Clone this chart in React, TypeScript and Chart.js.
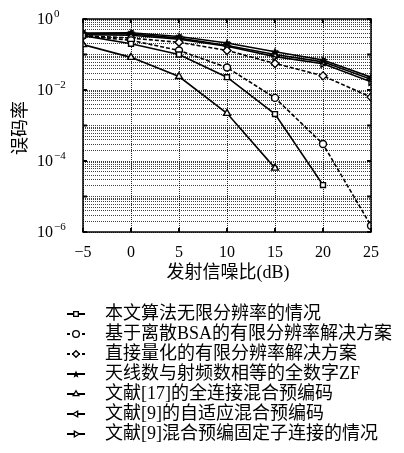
import React, { useEffect, useRef } from 'react';
import { Chart, registerables } from 'chart.js';
import { drawPoint } from 'chart.js/helpers';

Chart.register(...registerables);

// ---- data ----
const snr = [-5, 0, 5, 10, 15, 20, 25];
const xTickLabels = ['−5', '0', '5', '10', '15', '20', '25'];
const yLabelExponents = [0, -2, -4, -6];

const berProposed = [0.34, 0.2, 0.1, 0.023, 0.0021, 0.000021, null];
const berBSA = [0.34, 0.25, 0.13, 0.043, 0.006, 0.0003, 0.0000015];
const berQuant = [0.34, 0.29, 0.22, 0.13, 0.056, 0.025, 0.0063];
const berZF = [0.4, 0.41, 0.32, 0.21, 0.12, 0.07, 0.023];
const berRef17 = [0.19, 0.083, 0.024, 0.0022, 0.000063, null, null];
const berRef9Adaptive = [0.38, 0.38, 0.29, 0.18, 0.1, 0.062, 0.02];
const berRef9Fixed = [0.36, 0.35, 0.27, 0.17, 0.087, 0.055, 0.017];

const seriesNames = [
  '本文算法无限分辨率的情况',
  '基于离散BSA的有限分辨率解决方案',
  '直接量化的有限分辨率解决方案',
  '天线数与射频数相等的全数字ZF',
  '文献[17]的全连接混合预编码',
  '文献[9]的自适应混合预编码',
  '文献[9]混合预编固定子连接的情况',
];

const xTitle = '发射信噪比(dB)';
const yTitle = '误码率';

const SERIF = '"Liberation Serif", "Noto Sans CJK SC", serif';

function makeStar(size: number) {
  const c = document.createElement('canvas');
  c.width = size;
  c.height = size;
  const g = c.getContext('2d')!;
  const cx = size / 2, cy = size / 2 + 0.5;
  const R = size / 2, r = R * 0.45;
  g.beginPath();
  for (let i = 0; i < 10; i++) {
    const ang = -Math.PI / 2 + (i * Math.PI) / 5;
    const rad = i % 2 === 0 ? R : r;
    const px = cx + Math.cos(ang) * rad;
    const py = cy + Math.sin(ang) * rad;
    if (i === 0) g.moveTo(px, py); else g.lineTo(px, py);
  }
  g.closePath();
  g.fillStyle = '#000';
  g.fill();
  return c;
}

export default function App() {
  const ref = useRef<HTMLCanvasElement | null>(null);

  useEffect(() => {
    if (!ref.current) return;
    const star = makeStar(10);
    const legendStar = makeStar(8);
    const styles: any[] = [
      { data: berProposed, style: 'rect', dashed: false, rot: 0, r: 3.5 },
      { data: berBSA, style: 'circle', dashed: true, rot: 0, r: 3.5 },
      { data: berQuant, style: 'rectRot', dashed: true, rot: 0, r: 4 },
      { data: berZF, style: star, dashed: false, rot: 0, r: 4 },
      { data: berRef17, style: 'triangle', dashed: false, rot: 0, r: 4 },
      { data: berRef9Adaptive, style: 'triangle', dashed: false, rot: -90, r: 4 },
      { data: berRef9Fixed, style: 'triangle', dashed: false, rot: 90, r: 4 },
    ];

    const datasets = styles.map((s, i) => ({
      label: seriesNames[i],
      data: snr
        .map((x, j) => ({ x, y: s.data[j] }))
        .filter((p) => p.y !== null && p.y !== undefined),
      borderColor: '#000',
      backgroundColor: '#fff',
      borderWidth: 1.6,
      borderDash: s.dashed ? [4, 2] : [],
      pointStyle: s.style,
      pointRadius: s.r,
      pointRotation: s.rot,
      pointBorderWidth: 1.4,
      pointBackgroundColor: '#fff',
      pointBorderColor: '#000',
      tension: 0,
      fill: false,
    }));

    const overlay = {
      id: 'overlay',
      afterDraw(chart: any) {
        const { ctx, chartArea: a, scales } = chart;
        const xs = scales.x, ys = scales.y;
        ctx.save();
        const line = (x1: number, y1: number, x2: number, y2: number) => {
          ctx.beginPath();
          ctx.moveTo(x1, y1);
          ctx.lineTo(x2, y2);
          ctx.stroke();
        };
        ctx.setLineDash([]);
        ctx.strokeStyle = '#000';
        // frame
        ctx.lineWidth = 1.5;
        ctx.strokeRect(a.left, a.top, a.right - a.left, a.bottom - a.top);
        // decade ticks
        ctx.lineWidth = 2;
        for (let k = -6; k <= 0; k++) {
          const y = ys.getPixelForValue(Math.pow(10, k));
          line(a.left, y, a.left + 4, y);
          line(a.right - 4, y, a.right, y);
        }
        // x ticks
        snr.forEach((v) => {
          const x = xs.getPixelForValue(v);
          line(x, a.bottom, x, a.bottom - 4);
          line(x, a.top, x, a.top + 4);
        });
        ctx.fillStyle = '#000';
        // y labels
        yLabelExponents.forEach((e) => {
          const y = ys.getPixelForValue(Math.pow(10, e));
          ctx.font = '16px "Liberation Serif", serif';
          ctx.textAlign = 'left';
          ctx.textBaseline = 'middle';
          ctx.fillText('10', 37, y + 1);
          const w = ctx.measureText('10').width;
          ctx.font = '11px "Liberation Serif", serif';
          ctx.fillText(e === 0 ? '0' : '−' + -e, 37 + w + 1, y - 5);
        });
        // x labels
        ctx.font = '16px "Liberation Serif", serif';
        ctx.textAlign = 'center';
        ctx.textBaseline = 'middle';
        snr.forEach((v, i) => {
          ctx.fillText(xTickLabels[i], xs.getPixelForValue(v), 253);
        });
        // x title
        ctx.font = '18px ' + SERIF;
        ctx.fillText(xTitle, 228, 273);
        // y title
        ctx.save();
        ctx.translate(21, 128);
        ctx.rotate(-Math.PI / 2);
        ctx.fillText(yTitle, 0, 0);
        ctx.restore();
        // legend
        chart.data.datasets.forEach((ds: any, i: number) => {
          const y = 314 + i * 20;
          ctx.lineWidth = 2;
          ctx.setLineDash(ds.borderDash && ds.borderDash.length ? [3, 2] : []);
          line(67, y, 85, y);
          ctx.setLineDash([]);
          ctx.fillStyle = '#fff';
          ctx.strokeStyle = '#000';
          ctx.lineWidth = 1.3;
          drawPoint(
            ctx,
            {
              pointStyle: ds.pointStyle === star ? legendStar : ds.pointStyle,
              radius: 3.3,
              rotation: ds.pointRotation,
              borderWidth: 1.3,
            } as any,
            76,
            y
          );
          ctx.fillStyle = '#000';
          ctx.font = '18px ' + SERIF;
          ctx.textAlign = 'left';
          ctx.textBaseline = 'middle';
          ctx.fillText(ds.label, 105, y);
        });
        ctx.restore();
      },
    };

    const minorTicks: { value: number }[] = [];
    for (let k = -6; k <= 0; k++) {
      for (let m = 1; m <= 9; m++) {
        const v = m * Math.pow(10, k);
        if (v <= 1) minorTicks.push({ value: v });
      }
    }

    const chart = new Chart(ref.current, {
      type: 'line',
      data: { datasets },
      options: {
        responsive: false,
        animation: false,
        devicePixelRatio: 1,
        layout: { padding: { left: 83, top: 19, right: 33, bottom: 221 } },
        plugins: { legend: { display: false }, tooltip: { enabled: false } },
        scales: {
          x: {
            type: 'linear',
            min: -5,
            max: 25,
            ticks: { display: false, stepSize: 5, autoSkip: false },
            grid: {
              color: 'rgba(0,0,0,0.85)',
              lineWidth: 1,
              drawTicks: false,
              tickLength: 0,
            },
            border: { display: false, dash: [1, 1] },
          },
          y: {
            type: 'logarithmic',
            min: 1e-6,
            max: 1,
            afterBuildTicks: (scale: any) => {
              scale.ticks = minorTicks.map((t) => ({ ...t }));
            },
            ticks: { display: false, autoSkip: false },
            grid: {
              color: 'rgba(0,0,0,0.75)',
              lineWidth: 1,
              drawTicks: false,
              tickLength: 0,
            },
            border: { display: false, dash: [1, 1] },
          },
        },
      } as any,
      plugins: [overlay],
    });
    return () => chart.destroy();
  }, []);

  return (
    <div style={{ position: 'absolute', left: 0, top: 0, width: 404, height: 453, background: '#fff' }}>
      <canvas ref={ref} width={404} height={453} style={{ display: 'block', width: 404, height: 453 }} />
    </div>
  );
}
